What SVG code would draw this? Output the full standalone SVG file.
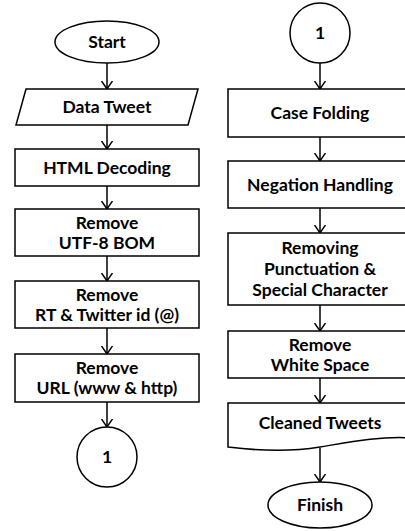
<svg xmlns="http://www.w3.org/2000/svg" width="405" height="531" viewBox="0 0 405 531">
<style>
.s{fill:#fff;stroke:#000;stroke-width:1.5}
.t{font-family:Lato,"Liberation Sans",sans-serif;font-weight:bold;font-size:17.5px;text-anchor:middle;fill:#000}
.c{fill:none;stroke:#000;stroke-width:1.5}
</style>
<defs>
<marker id="a" viewBox="0 0 9 12" refX="8.5" refY="6" markerWidth="9" markerHeight="12" markerUnits="userSpaceOnUse" orient="auto">
<path d="M0.5,0.5 L8.5,6 L0.5,11.5" fill="none" stroke="#000" stroke-width="1.5"/>
</marker>
</defs>
<rect width="405" height="531" fill="#fff"/>
<g id="connectors" class="c" marker-end="url(#a)">
<line x1="107" y1="63" x2="107" y2="89"/>
<line x1="107" y1="125" x2="107" y2="149"/>
<line x1="107" y1="186" x2="107" y2="209"/>
<line x1="107" y1="256" x2="107" y2="281"/>
<line x1="107" y1="328" x2="107" y2="354"/>
<line x1="107" y1="402" x2="107" y2="427"/>
<line x1="320" y1="63" x2="320" y2="89"/>
<line x1="320" y1="137" x2="320" y2="161"/>
<line x1="320" y1="208" x2="320" y2="233"/>
<line x1="320" y1="305" x2="320" y2="331"/>
<line x1="320" y1="378" x2="320" y2="403"/>
<line x1="320" y1="448" x2="320" y2="482"/>
</g>
<g id="start"><ellipse class="s" cx="107" cy="42" rx="52" ry="21"/><text class="t" x="107" y="48">Start</text></g>
<g id="data-tweet"><polygon class="s" points="26,89 198,89 188,125 16,125"/><text class="t" x="107" y="113">Data Tweet</text></g>
<g id="html-decoding"><rect class="s" x="15" y="149" width="184" height="37"/><text class="t" x="107" y="173.5">HTML Decoding</text></g>
<g id="remove-utf8"><rect class="s" x="15" y="209" width="184" height="47"/><text class="t" x="107" y="229">Remove</text><text class="t" x="107" y="248.5">UTF-8 BOM</text></g>
<g id="remove-rt"><rect class="s" x="15" y="281" width="184" height="47"/><text class="t" x="107" y="301">Remove</text><text class="t" x="107" y="320.5">RT &amp; Twitter id (@)</text></g>
<g id="remove-url"><rect class="s" x="15" y="354" width="184" height="48"/><text class="t" x="107" y="374">Remove</text><text class="t" x="107" y="393.5">URL (www &amp; http)</text></g>
<g id="connector-1a"><circle class="s" cx="107" cy="457" r="30"/><text class="t" x="107" y="463">1</text></g>
<g id="connector-1b"><circle class="s" cx="320" cy="33" r="30"/><text class="t" x="320" y="39">1</text></g>
<g id="case-folding"><rect class="s" x="228" y="89" width="184" height="48"/><text class="t" x="320" y="119">Case Folding</text></g>
<g id="negation"><rect class="s" x="228" y="161" width="184" height="47"/><text class="t" x="320" y="190.5">Negation Handling</text></g>
<g id="removing-punct"><rect class="s" x="228" y="233" width="184" height="72"/><text class="t" x="320" y="254">Removing</text><text class="t" x="320" y="275">Punctuation &amp;</text><text class="t" x="320" y="296">Special Character</text></g>
<g id="remove-ws"><rect class="s" x="228" y="331" width="184" height="47"/><text class="t" x="320" y="351">Remove</text><text class="t" x="320" y="370.5">White Space</text></g>
<g id="cleaned"><path class="s" d="M228,403 H412 V438 C380,436 350,442 320,447 C290,452 260,451 228,447 Z"/><text class="t" x="320" y="429">Cleaned Tweets</text></g>
<g id="finish"><ellipse class="s" cx="320" cy="505" rx="52" ry="23"/><text class="t" x="320" y="511">Finish</text></g>
</svg>
